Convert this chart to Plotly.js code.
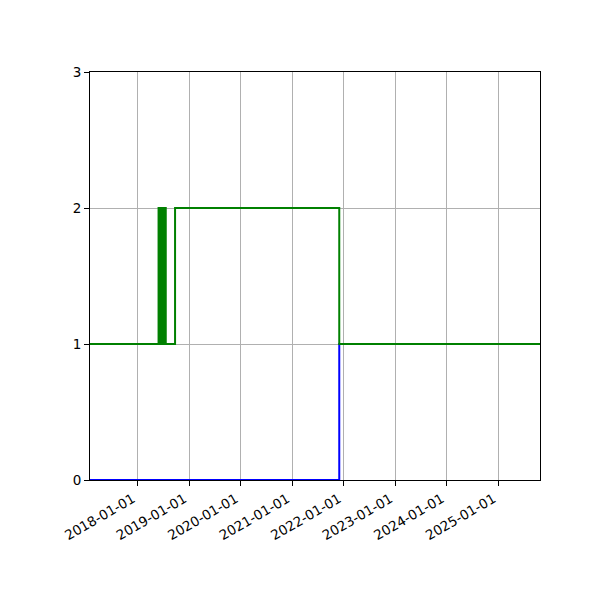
<!DOCTYPE html>
<html>
<head>
<meta charset="utf-8">
<script src="https://cdn.plot.ly/plotly-3.0.1.min.js"></script>
<style>
  html, body { margin: 0; padding: 0; background: #fff; }
  #divPlot { width: 600px; height: 600px; }
</style>
</head>
<body>
<div id="divPlot"></div>
<script>
// blue series: 0 until late 2021, then 1
var blueDates = ['2017-01-27', '2021-11-29', '2025-10-22'];
var blueValues = [0, 1, 1];

// green series: 1, a burst of flips in mid-2018, 2 from autumn 2018, back to 1 late 2021
var greenDates = [
  '2017-01-27',
  '2018-05-28', '2018-06-01', '2018-06-05', '2018-06-09', '2018-06-13',
  '2018-06-17', '2018-06-21', '2018-06-25', '2018-06-28',
  '2018-07-12', '2018-07-15', '2018-07-18',
  '2018-09-22', '2021-11-29', '2025-10-22'
];
var greenValues = [
  1,
  2, 1, 2, 1, 2,
  1, 2, 1, 2,
  1, 2, 1,
  2, 1, 1
];

var yearTicks = ['2018-01-01', '2019-01-01', '2020-01-01', '2021-01-01',
                 '2022-01-01', '2023-01-01', '2024-01-01', '2025-01-01'];

var trace1 = {
  x : blueDates,
  y : blueValues,
  mode : 'lines',
  line : {color : '#0000ff', width : 2, shape : 'hv'},
  type : 'scatter',
  name : 'blue'
};

var trace2 = {
  x : greenDates,
  y : greenValues,
  mode : 'lines',
  line : {color : '#008000', width : 2, shape : 'hv'},
  type : 'scatter',
  name : 'green'
};

var axisCommon = {
  showline : true,
  linecolor : '#000',
  linewidth : 1,
  mirror : true,
  ticks : 'outside',
  ticklen : 5,
  tickwidth : 1,
  tickcolor : '#000',
  showgrid : true,
  gridcolor : '#b0b0b0',
  gridwidth : 1,
  zeroline : false,
  tickfont : {family : 'DejaVu Sans', size : 13.5, color : '#000'}
};

var layout = {
  width : 600,
  height : 600,
  margin : {l : 90, r : 60, t : 72, b : 120},
  showlegend : false,
  paper_bgcolor : '#fff',
  plot_bgcolor : '#fff',
  xaxis : Object.assign({}, axisCommon, {
    type : 'date',
    range : [blueDates[0], blueDates[blueDates.length - 1]],
    tickvals : yearTicks,
    ticktext : yearTicks,
    tickangle : -30,
    ticklabelshift : -5
  }),
  yaxis : Object.assign({}, axisCommon, {
    range : [0, 3],
    tickvals : [0, 1, 2, 3]
  })
};

Plotly.newPlot('divPlot', [trace1, trace2], layout, {displayModeBar : false});
</script>
</body>
</html>
